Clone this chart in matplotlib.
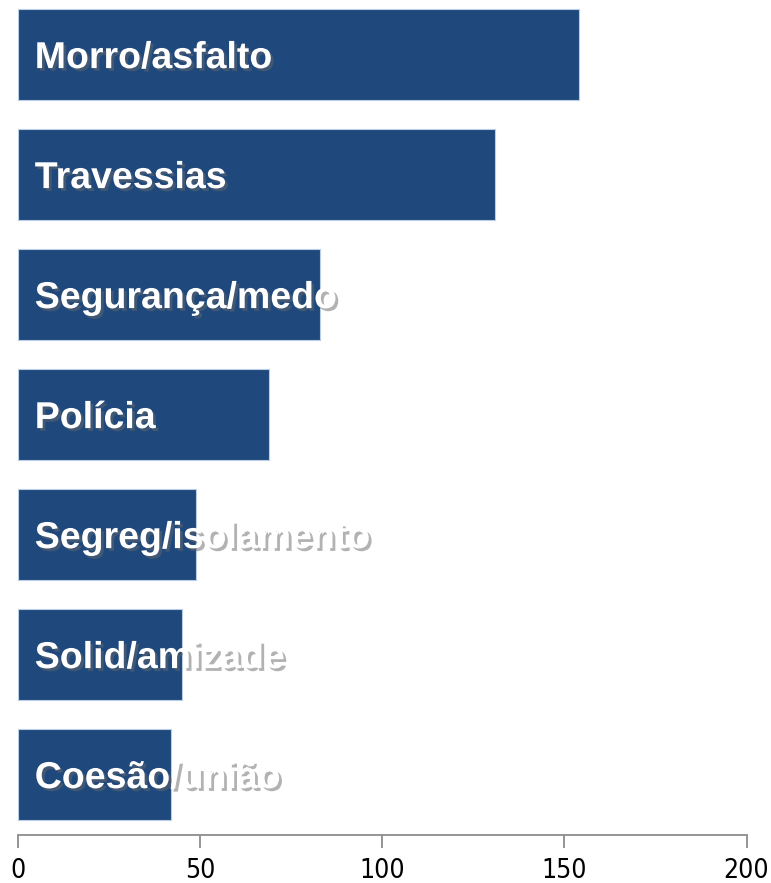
import matplotlib.pyplot as plt
import matplotlib.patheffects as pe

# categories top to bottom and their counts
categories = ['Morro/asfalto', 'Travessias', 'Segurança/medo', 'Polícia',
              'Segreg/isolamento', 'Solid/amizade', 'Coesão/união']
values = [154, 131, 83, 69, 49, 45, 42]
ticks = [0, 50, 100, 150, 200]

W, H = 771, 883
fig = plt.figure(figsize=(W / 100, H / 100), dpi=100)
ax = fig.add_axes([18 / W, 1 - 834.5 / H, (746.5 - 18) / W, 840 / H])

pos = list(range(len(categories)))
ax.barh(pos, values, height=0.765, color='#1F497D', edgecolor='#B9CDE5',
        linewidth=0.8, zorder=2)

shadow = [pe.SimplePatchShadow(offset=(2, -2), shadow_rgbFace='#666666', alpha=0.5),
          pe.Normal()]
for p, name in zip(pos, categories):
    ax.text(4.6, p + 0.03, name, color='white', fontsize=27, fontweight='bold',
            family='Liberation Sans', va='center', ha='left',
            path_effects=shadow, zorder=3)

ax.set_xlim(0, 200)
ax.set_ylim(6.5, -0.5)
ax.set_xticks(ticks)
ax.set_yticks([])
for s in ['top', 'right', 'left']:
    ax.spines[s].set_visible(False)
ax.spines['bottom'].set_color('#8C8C8C')
ax.spines['bottom'].set_linewidth(1.3)
ax.tick_params(axis='x', direction='out', length=9, width=1.3, color='#8C8C8C',
               pad=8, labelcolor='black')
for lbl in ax.get_xticklabels():
    lbl.set_fontsize(19)
    lbl.set_fontstretch('condensed')

fig.savefig('out.png', dpi=100)
